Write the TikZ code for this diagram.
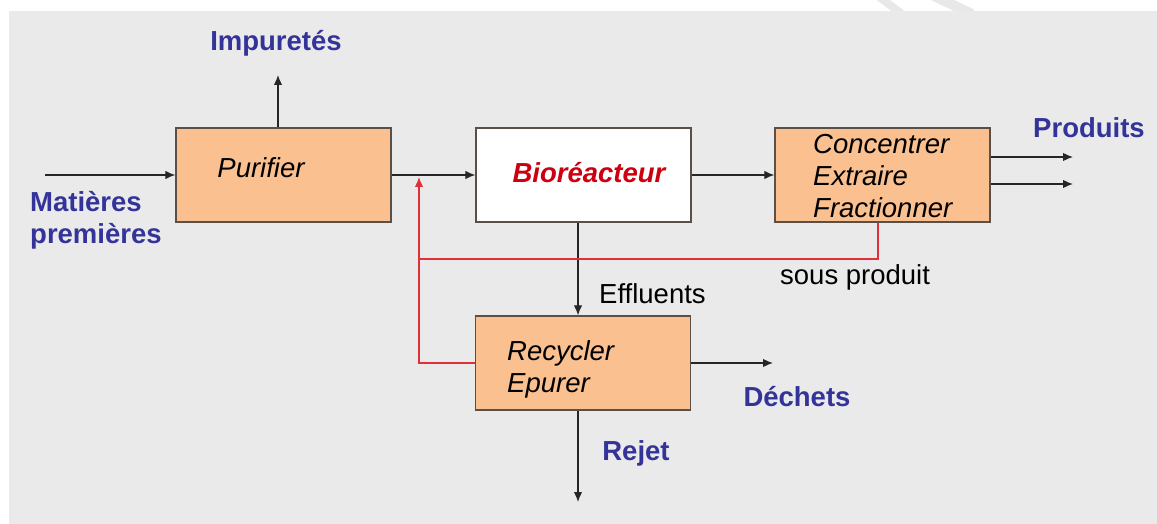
\documentclass[tikz,border=0pt]{standalone}
\usepackage{fontspec}
\setmainfont{Liberation Sans}
\usetikzlibrary{arrows.meta,calc}
\definecolor{bg}{HTML}{EAEAEA}
\definecolor{boxfill}{HTML}{FAC090}
\definecolor{boxedge}{HTML}{5A5048}
\definecolor{lblue}{HTML}{333399}
\definecolor{dred}{HTML}{CC0010}
\definecolor{lred}{HTML}{E0303C}
\tikzset{
  procbox/.style={draw=boxedge, line width=1.4pt, fill=boxfill, minimum width=215pt, minimum height=94pt, inner sep=0pt},
  whitebox/.style={procbox, fill=white},
  flow/.style={draw=black!85, line width=1.2pt, -{Latex[length=10pt,width=8.5pt]}},
  redflow/.style={draw=lred, line width=1.2pt},
  bluelbl/.style={text=lblue, font=\fontsize{27.5}{32}\selectfont\bfseries, inner sep=0pt},
  boxtxt/.style={font=\fontsize{27.5}{32}\selectfont\itshape, inner sep=0pt, align=left},
  plain/.style={font=\fontsize{27.5}{32}\selectfont, inner sep=0pt}
}
\begin{document}
\begin{tikzpicture}[x=1pt,y=-1pt]
\useasboundingbox (0,0) rectangle (1157,524);
\fill[white] (0,0) rectangle (1157,524);
\begin{scope}
\clip (0,0) rectangle (1157,11);
\draw[line width=8pt, color=black!9] (878,-4) -- (902,14);
\draw[line width=10pt, color=black!9] (934,-4) -- (972,14);
\end{scope}
\fill[bg] (9,11) rectangle (1157,524);

% boxes
\node[procbox] (pur) at (283.5,175) {};
\node[whitebox] (bio) at (583.5,175) {};
\node[procbox] (con) at (882.5,175) {};
\node[procbox] (rec) at (583,363) {};

% box texts
\node[boxtxt] (purtxt) at (261,168) {Purifier};
\node[text=dred, font=\fontsize{27.5}{32}\selectfont\bfseries\itshape, inner sep=0pt] (biotxt) at (589,173) {Bioréacteur};
\node[boxtxt, anchor=west] (contxt) at (813,176) {Concentrer\\Extraire\\Fractionner};
\node[boxtxt, anchor=west] (rectxt) at (507,369) {Recycler\\Epurer};

% labels
\node[bluelbl] (imp) at (276,43) {Impuretés};
\node[bluelbl, anchor=west, align=left] (mat) at (30,220) {Matières\\premières};
\node[bluelbl] (prod) at (1089,128) {Produits};
\node[bluelbl] (dech) at (797,397) {Déchets};
\node[bluelbl] (rej) at (636,453) {Rejet};
\node[plain, anchor=west] (eff) at (599,294) {Effluents};
\node[plain, anchor=west] (sous) at (780,277) {sous produit};

% free ends
\coordinate (inS) at (45,175);
\coordinate (impE) at (278,75);
\coordinate (p1) at (1073,157);
\coordinate (p2) at (1073,184);
\coordinate (dechE) at (773,363);
\coordinate (rejE) at (578,502);
\coordinate (jn) at (419,177);
\coordinate (redA) at (419,259);
\coordinate (redB) at (878,259);
\coordinate (redC) at (419,363);

% black connectors
\draw[flow] (inS) -- (pur.west);
\draw[flow] (pur.north -| impE) -- (impE);
\draw[flow] (pur.east) -- (bio.west);
\draw[flow] (bio.east) -- (con.west);
\draw[flow] (con.east |- p1) -- (p1);
\draw[flow] (con.east |- p2) -- (p2);
\draw[flow] (bio.south -| rejE) -- (rec.north -| rejE);
\draw[flow] (rec.east) -- (dechE);
\draw[flow] (rec.south -| rejE) -- (rejE);

% red recycle
\draw[redflow] (con.south -| redB) -- (redB) -- (redA);
\draw[redflow] (rec.west) -- (redC) -- (redA);
\draw[redflow, -{Latex[length=10pt,width=8.5pt]}] (redA) -- (jn);
\end{tikzpicture}
\end{document}
